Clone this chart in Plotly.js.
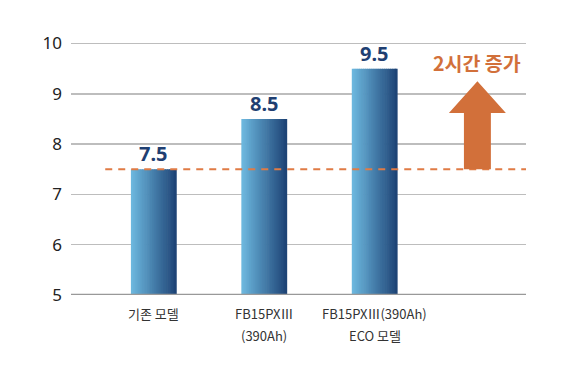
<!DOCTYPE html>
<html><head><meta charset="utf-8">
<script src="https://cdn.plot.ly/plotly-3.0.1.min.js"></script>
<style>html,body{margin:0;padding:0;background:#fff}#chart{width:568px;height:378px}</style>
</head><body><div id="chart"></div>
<script>
const categories = ['기존 모델', 'FB15PXⅢ<br>(390Ah)', 'FB15PXⅢ(390Ah)<br>ECO 모델'];
const hours = [7.5, 8.5, 9.5];
const valueLabels = ['7.5', '8.5', '9.5'];
const increaseLabel = '2시간 증가';
const yTicks = [5, 6, 7, 8, 9, 10];

const xs = categories.map((c, i) => i);
const barW = 0.415, N = 24;
const c0 = [108, 183, 222], c1 = [30, 68, 118];
const traces = [];
for (let k = 0; k < N; k++) {
  const t = k / (N - 1);
  const col = c0.map((v, j) => Math.round(v + (c1[j] - v) * t));
  const sw = barW / N;
  traces.push({
    type: 'bar', x: xs, y: hours, base: 0,
    width: sw * 1.35, offset: -barW / 2 + k * sw - (k === N - 1 ? sw * 0.35 : 0),
    marker: {color: `rgb(${col.join(',')})`, line: {width: 0}},
    hoverinfo: 'skip', showlegend: false
  });
}
const baseVal = hours[0], topVal = hours[hours.length - 1];
traces.push({
  type: 'scatter', mode: 'lines', x: [-0.44, 3.4], y: [baseVal, baseVal],
  line: {color: '#E07B45', width: 2, dash: '7px,6px'}, hoverinfo: 'skip', showlegend: false
});
const ax = 2.93, sh = 0.122, hh = 0.258;
const tip = topVal - 0.25, headBase = topVal - 0.88;
traces.push({
  type: 'scatter', mode: 'lines', fill: 'toself', fillcolor: '#D2703A',
  x: [ax - sh, ax - sh, ax - hh, ax, ax + hh, ax + sh, ax + sh, ax - sh],
  y: [baseVal, headBase, headBase, tip, headBase, headBase, baseVal, baseVal],
  line: {width: 0, color: '#D2703A'}, hoverinfo: 'skip', showlegend: false
});

const annotations = hours.map((v, i) => ({
  x: xs[i], y: v, text: '<b>' + valueLabels[i] + '</b>', showarrow: false,
  yanchor: 'bottom', yshift: 0, font: {family: 'Noto Sans, sans-serif', size: 20, color: '#1F3F72'}
}));
annotations.push({
  x: ax, y: topVal + 0.12, text: '<b>' + increaseLabel + '</b>', showarrow: false,
  font: {family: 'Noto Sans CJK KR, sans-serif', size: 19.5, color: '#D2703A'}
});
categories.forEach((c, i) => c.split('<br>').forEach((line, j) => annotations.push({
  x: xs[i], y: 5, text: line, showarrow: false, yanchor: 'middle', yshift: -18 - 22 * j,
  font: {family: 'Noto Sans CJK KR, sans-serif', size: 13, color: '#333'}
})));

const layout = {
  width: 568, height: 378, margin: {l: 71, r: 42, t: 40, b: 83},
  paper_bgcolor: '#fff', plot_bgcolor: '#fff', barmode: 'overlay',
  xaxis: {range: [-0.75, 3.37], showgrid: false, zeroline: false, showticklabels: false, fixedrange: true},
  yaxis: {range: [5, 10.07], tickvals: yTicks, ticktext: yTicks.map(String), showgrid: true,
    gridcolor: '#BDBDBD', gridwidth: 1.5, zeroline: false, ticks: '', ticklen: 0,
    tickfont: {family: 'Noto Sans, sans-serif', size: 17, color: '#222'}, ticklabelstandoff: 8},
  shapes: [{type: 'line', xref: 'paper', yref: 'y', x0: 0, x1: 1, y0: 5, y1: 5, line: {color: '#999', width: 2.5}}],
  annotations: annotations
};
Plotly.newPlot('chart', traces, layout, {displayModeBar: false, staticPlot: true});
</script></body></html>
